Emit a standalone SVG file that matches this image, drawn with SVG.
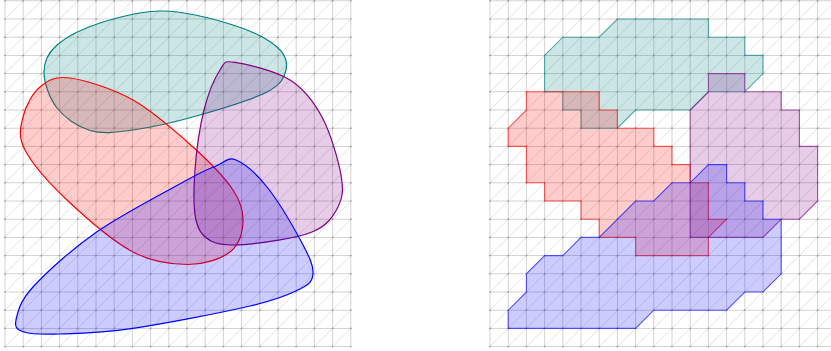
<svg xmlns="http://www.w3.org/2000/svg" width="831" height="351" viewBox="0 0 831 351">
<style>
.gl{fill:none;stroke:#d4d4d4;stroke-width:0.055}
.gd{fill:none;stroke:#dcdcdc;stroke-width:0.045}
.dots{fill:none;stroke:#9a9a9a;stroke-width:0.095;stroke-linecap:round;stroke-dasharray:0 1}
.sm{stroke-width:1.2}
.px{stroke-width:0.06;stroke-opacity:0.6}
.teal{fill:#008080;fill-opacity:0.2;stroke:#008080}
.red{fill:#ff0000;fill-opacity:0.2;stroke:#ff0000}
.purple{fill:#800080;fill-opacity:0.2;stroke:#800080}
.blue{fill:#0000ff;fill-opacity:0.2;stroke:#0000ff}
</style>
<defs>
<g id="grid">
<path class="gd" d="M0 1L1 0M0 2L2 0M0 3L3 0M0 4L4 0M0 5L5 0M0 6L6 0M0 7L7 0M0 8L8 0M0 9L9 0M0 10L10 0M0 11L11 0M0 12L12 0M0 13L13 0M0 14L14 0M0 15L15 0M0 16L16 0M0 17L17 0M0 18L18 0M0 19L19 0M1 19L19 1M2 19L19 2M3 19L19 3M4 19L19 4M5 19L19 5M6 19L19 6M7 19L19 7M8 19L19 8M9 19L19 9M10 19L19 10M11 19L19 11M12 19L19 12M13 19L19 13M14 19L19 14M15 19L19 15M16 19L19 16M17 19L19 17M18 19L19 18"/>
<path class="gl" d="M0 0V19M1 0V19M2 0V19M3 0V19M4 0V19M5 0V19M6 0V19M7 0V19M8 0V19M9 0V19M10 0V19M11 0V19M12 0V19M13 0V19M14 0V19M15 0V19M16 0V19M17 0V19M18 0V19M19 0V19M0 0H19M0 1H19M0 2H19M0 3H19M0 4H19M0 5H19M0 6H19M0 7H19M0 8H19M0 9H19M0 10H19M0 11H19M0 12H19M0 13H19M0 14H19M0 15H19M0 16H19M0 17H19M0 18H19M0 19H19"/>
<path class="dots" d="M0 0H19.01M0 1H19.01M0 2H19.01M0 3H19.01M0 4H19.01M0 5H19.01M0 6H19.01M0 7H19.01M0 8H19.01M0 9H19.01M0 10H19.01M0 11H19.01M0 12H19.01M0 13H19.01M0 14H19.01M0 15H19.01M0 16H19.01M0 17H19.01M0 18H19.01M0 19H19.01"/>
</g>
</defs>
<use href="#grid" transform="translate(5,0.8) scale(18.2)"/>
<use href="#grid" transform="translate(490,0.8) scale(18.2)"/>

<g id="smooth-teal"><path class="teal sm" d="M44 72 C44 61.5 47.67 53.17 57 45 C66.33 36.83 82.33 28.67 100 23 C117.67 17.33 140.83 10.67 163 11 C185.17 11.330 214 19 233 25 C252 31 268.17 39.5 277 47 C285.83 54.5 287.67 62.5 286 70 C284.33 77.5 281.33 84.5 267 92 C252.67 99.5 222.33 108.67 200 115 C177.67 121.33 151.33 127.42 133 130 C114.67 132.58 102.67 134.17 90 130.5 C77.33 126.83 64.67 117.75 57 108 C49.33 98.25 44 82.5 44 72Z"/></g>
<g id="smooth-red"><path class="red sm" d="M70 78 C85.5 80.17 112.5 88.5 133 100 C153.5 111.5 176.33 132 193 147 C209.67 162 224.67 177.5 233 190 C241.33 202.5 243.5 211.67 243 222 C242.5 232.33 239.17 244.92 230 252 C220.83 259.08 204.17 264.5 188 264.5 C171.83 264.5 153.17 262.75 133 252 C112.83 241.25 85 217 67 200 C49 183 32.33 163.83 25 150 C17.67 136.17 20.5 127.5 23 117 C25.5 106.5 32.17 93.5 40 87 C47.83 80.5 54.5 75.83 70 78Z"/></g>
<g id="smooth-purple"><path class="purple sm" d="M235 62.3 C246.67 63.97 275.5 70.88 290 80 C304.5 89.12 313.5 101.17 322 117 C330.5 132.83 338.33 160 341 175 C343.67 190 342.83 197.5 338 207 C333.17 216.5 327.17 225.78 312 232 C296.83 238.22 263.67 242.72 247 244.3 C230.33 245.88 220.5 245.55 212 241.5 C203.5 237.45 198.83 231.92 196 220 C193.17 208.08 193.67 188.33 195 170 C196.33 151.67 199.83 126.67 204 110 C208.17 93.33 214.83 77.95 220 70 C225.17 62.05 223.33 60.63 235 62.3Z"/></g>
<g id="smooth-blue"><path class="blue sm" d="M236 160 C244.5 163.5 256 173.17 267 187 C278 200.83 294.33 228.67 302 243 C309.67 257.33 313.33 265.33 313 273 C312.67 280.67 310.5 283.5 300 289 C289.5 294.5 277.83 299.45 250 306 C222.17 312.55 164.67 323.63 133 328.3 C101.33 332.97 78.17 333.38 60 334 C41.83 334.62 31.33 334.33 24 332 C16.67 329.67 14.5 327.5 16 320 C17.5 312.5 19.5 301.72 33 287 C46.5 272.28 71.33 249.53 97 231.7 C122.67 213.87 167.17 190.95 187 180 C206.83 169.05 207.83 169.33 216 166 C224.17 162.67 227.5 156.5 236 160Z"/></g>

<g transform="translate(490,0.8) scale(18.2)">
<g id="pixel-teal"><polygon class="teal px" points="3,3 4,2 6,2 7,1 12,1 12,2 14,2 14,3 15,3 15,4 14,5 12,5 11,6 8,6 7,7 5,7 5,6 4,6 4,5 3,5"/></g>
<g id="pixel-red"><polygon class="red px" points="2,5 6,5 6,6 7,6 7,7 9,7 9,8 10,8 10,9 11,9 11,10 12,10 12,12 13,12 12,13 12,14 8,14 8,13 6,13 6,12 5,12 5,11 3,11 3,10 2,10 2,8 1,8 1,7 2,6"/></g>
<g id="pixel-purple"><polygon class="purple px" points="12,4 14,4 14,5 16,5 16,6 17,6 17,8 18,8 18,11 17,12 16,12 15,13 11,13 11,6 12,5"/></g>
<g id="pixel-blue"><polygon class="blue px" points="1,18 1,17 2,16 2,15 3,14 4,14 5,13 6,13 8,11 9,11 10,10 11,10 12,9 13,9 13,10 14,10 14,11 15,11 15,12 16,12 16,15 15,16 14,16 13,17 9,17 8,18"/></g>
</g>
</svg>
